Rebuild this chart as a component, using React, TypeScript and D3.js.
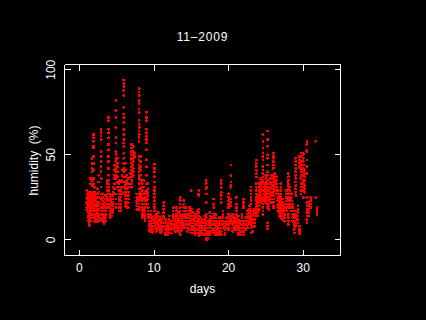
// humidity scatter for one month, R style plot on black
import React, { useEffect, useRef } from 'react';
import * as d3 from 'd3';

const xTicks = [0, 10, 20, 30];
const yTicks = [0, 50, 100];
const title = '11\u20132009';

// readings are grouped by column of the plot: one day position, several humidity values
const daysA = [1.0, 1.15, 1.3, 1.5, 1.7, 1.9, 2.05, 2.2, 2.4, 2.6, 2.9, 3.1, 3.3, 3.5, 3.7, 3.9, 4.1, 4.3, 4.5, 4.7, 4.9, 5.1];
const humidityA = [
  [29, 27, 25, 24, 22, 21, 19, 18, 17],
  [28, 26, 25, 23, 22, 20, 19, 17, 16, 14, 13, 11],
  [27, 25, 23, 21, 19, 17, 15, 13, 12, 10, 9, 8.5],
  [36, 33, 28, 26, 24, 22, 20, 18, 16, 15, 13, 11],
  [48, 45, 42, 40, 35, 32, 28, 27, 25, 23, 21, 19, 17, 15],
  [62, 60, 58, 55, 54, 49, 45, 41, 36, 33, 28, 26, 24, 22, 20, 18, 15, 13],
  [31, 28, 26, 24, 21, 19, 17, 15, 13, 11],
  [27, 25, 23, 21, 19, 17, 15, 14, 12, 10.5],
  [30, 27, 25, 22, 20, 18, 16, 14, 12],
  [38, 34, 28, 25, 22, 20, 18, 15, 13, 11],
  [65, 63, 61, 59, 52, 49, 46, 43, 40, 36, 31, 27, 24, 21, 19, 17, 15, 12],
  [27, 25, 23, 21, 19, 17, 15, 13, 11],
  [22, 20, 19, 17, 15, 14, 12, 10, 9.5],
  [26, 24, 21, 19, 17, 15, 13, 11],
  [35, 33, 31, 29, 27, 25, 23, 21, 19],
  [72, 70, 65, 63, 60, 56, 53, 49, 46, 42, 38, 35, 33, 31, 29, 27, 24, 21, 19],
  [27, 25, 23, 21, 19, 17, 15, 13],
  [26, 24, 22, 20, 18, 16, 14],
  [31, 28, 26, 24, 22, 20, 18, 16],
  [44, 41, 38, 36, 33, 30, 27],
  [82, 76, 72, 66, 60, 57, 52, 50, 48, 46, 44, 42, 40, 38, 36, 27, 24, 21, 19],
  [48, 45, 43, 40, 37, 34, 31],
];

const daysB = [5.3, 5.5, 5.7, 5.95, 6.15, 6.35, 6.55, 6.8, 7.0, 7.2, 7.4, 7.7, 8.0, 8.2, 8.4, 8.6, 8.8, 9.0, 9.2, 9.4, 9.6, 9.8, 10.05];
const humidityB = [
  [35, 33, 31, 29, 27, 25, 23, 21, 19, 17],
  [34, 31, 29, 27, 25, 23, 21, 19, 17],
  [41, 38, 35, 31, 27],
  [94, 92, 90, 88, 85, 78, 74, 72, 69, 65, 62, 59, 57, 55, 51, 48, 45, 42, 40, 37, 34, 31, 28],
  [45, 41, 37, 34, 32, 30, 28, 26, 24, 22, 20],
  [38, 35, 33, 30, 28, 26, 24, 22, 20, 19],
  [36, 33, 31, 28, 26, 24, 22, 19],
  [39, 37],
  [56, 54, 52, 50, 48, 47, 45, 43, 41, 39, 37, 35, 33, 31],
  [55, 52, 50, 48, 46, 44, 42, 40, 38],
  [51, 49],
  [27, 25, 23, 22, 20, 18],
  [89, 87, 85, 82, 80, 77, 75, 70, 68, 66, 64, 62, 60, 58, 49, 47, 44, 42, 40, 38, 36, 33, 30, 27, 25, 23, 21, 19, 18],
  [49, 46, 43, 41, 38, 35, 30, 28, 26, 24],
  [33, 31, 29, 27, 25, 23, 21, 19, 17, 15, 13],
  [35, 31, 27, 24, 21, 18, 16, 14],
  [28, 25, 23, 21, 19, 17, 15, 13, 11.5],
  [75, 72, 70, 65, 63, 61, 59, 57, 53, 47, 43, 38, 33, 29, 27, 25, 23, 21],
  [33, 30, 28, 26, 24, 21, 19, 17, 15, 13],
  [15, 13, 11, 9, 8, 6, 5],
  [17, 15, 13, 11, 9, 7, 5.5],
  [13, 12, 10, 8, 6, 4.5],
  [44.5, 42, 40, 37, 34, 31, 29, 27, 25, 23, 21, 19, 17, 14, 12, 10, 8],
];

const daysC = [10.3, 10.55, 10.8, 11.05, 11.3, 11.55, 11.8, 12.05, 12.3, 12.55, 12.8, 13.0, 13.25, 13.5, 13.75, 14.0, 14.25, 14.5, 14.75, 15.0, 15.25, 15.5, 15.75, 16.0];
const humidityC = [
  [15, 13, 11, 9, 7, 6, 5],
  [16, 14, 12, 10, 8, 6],
  [13, 11, 9, 7, 5, 4],
  [14, 12, 10, 8, 6, 4.5],
  [22, 20, 18, 16, 14, 13, 10, 8],
  [12, 10, 8, 6, 4, 3],
  [10, 9, 7, 6, 5, 3],
  [14, 12, 10, 8, 6, 4],
  [11, 9, 7, 6, 4],
  [19, 17, 15, 13, 11, 9, 7],
  [14, 12, 10, 8, 6, 5],
  [19, 17, 15, 13, 11, 9, 7, 5.5],
  [16, 14, 12, 10, 8, 6, 5],
  [25, 23, 21, 19, 17, 15, 13, 11, 9, 7, 5, 3],
  [14, 12, 10, 8, 6],
  [23, 21, 19, 17, 15, 13, 11, 9, 8, 7],
  [19, 17, 15, 13, 11, 9, 7],
  [15, 13, 11, 9, 7, 5],
  [19, 17, 15, 13, 11, 9, 6],
  [29, 18, 16, 14, 12, 10, 8, 6, 4],
  [16, 14, 12, 10, 8, 6, 4],
  [15, 13, 11, 9, 7, 5, 3],
  [17, 15, 13, 11, 9, 6, 4],
  [29, 27, 26, 18, 16, 14, 12, 10, 8, 6, 4, 2.6],
];

const daysD = [16.25, 16.5, 16.75, 17.0, 17.25, 17.5, 17.75, 18.0, 18.25, 18.5, 18.75, 19.0, 19.25, 19.5, 19.75, 20.0, 20.3, 20.55, 20.8, 21.05, 21.3, 21.55, 21.8, 22.0, 22.3, 22.55, 22.8, 23.0, 23.25, 23.5];
const humidityD = [
  [13, 11, 9, 7, 5, 3],
  [12, 10, 8, 6, 4],
  [14, 12, 10, 8, 6, 3],
  [35, 33, 31, 30, 27, 22, 15, 13, 11, 9, 7, 5, 3, 1, 0],
  [11, 9, 7, 5, 3, 1],
  [16, 14, 12, 10, 8, 5, 3],
  [13, 11, 9, 7, 5],
  [24, 21, 19, 15, 13, 11, 9, 6, 4],
  [15, 13, 11, 9, 7, 5, 3],
  [10, 8, 6, 4, 3],
  [13, 11, 9, 7, 5, 3],
  [35, 33, 31, 28, 26, 24, 22, 13, 11, 9, 7, 5, 3],
  [17, 15, 13, 11, 9, 7],
  [10, 8, 6, 4, 3],
  [13, 11, 9, 7],
  [27, 25, 23, 21, 19, 15, 13, 11, 9, 7, 6],
  [44, 38, 34, 32, 31, 24, 22, 20, 14, 12, 10],
  [15, 13, 11, 9, 7, 5],
  [13, 12, 10, 8, 6],
  [25, 21, 19, 17, 15, 13, 11, 9, 7, 6],
  [14, 12, 10, 8, 6, 4, 3],
  [11, 9, 7, 5, 3],
  [15, 13, 11, 9, 7, 5],
  [24, 22, 20, 19, 11, 9, 7, 5, 3],
  [13, 11, 9, 7, 6],
  [17, 15, 13, 11, 9, 7],
  [20, 18, 16, 14, 12, 10],
  [31, 29, 27, 25, 23, 21, 17, 15, 13, 11, 9, 7, 4],
  [17, 15, 14, 12, 10, 8, 5],
  [18, 16, 14, 12, 10, 8],
];

const daysE = [23.7, 23.9, 24.1, 24.3, 24.6, 24.8, 25.0, 25.2, 25.4, 25.6, 25.8, 26.0, 26.2, 26.4, 26.6, 26.8, 27.0, 27.25, 27.5, 27.75, 28.0, 28.2, 28.4, 28.6, 28.8, 29.0];
const humidityE = [
  [47, 45, 43, 41, 39, 37, 33, 31, 29, 27, 25, 23, 21, 19, 17, 15],
  [26, 24, 22, 20, 18, 16, 14],
  [33, 31, 29, 27, 25, 23, 20, 18],
  [36, 34, 32, 30, 28, 26, 24, 22],
  [62, 58, 54, 51, 49, 47, 43, 41, 39, 37, 35, 33, 31, 29, 27, 25, 23, 21, 19, 17, 15],
  [33, 31, 29, 27, 25, 23],
  [38, 36, 34, 32, 30, 28, 26, 24, 22],
  [64, 59, 55, 50, 48, 44, 40, 38, 35, 33, 31, 29, 27, 25, 23, 21, 19, 10, 8, 6.5],
  [31, 29, 27, 25, 23, 20, 18],
  [36, 34, 33, 30, 28, 26, 24, 22],
  [38, 36, 34, 32, 30, 28, 26],
  [51, 49, 48, 46, 44, 42, 38, 36, 34, 32, 30, 28, 26, 24, 22, 20, 19],
  [39, 37, 35, 33, 31, 29],
  [37, 35, 33, 31, 29, 27],
  [29, 27, 25, 23, 21, 19, 17],
  [26, 24, 22, 20, 18, 16, 14],
  [33, 31, 29, 27, 25, 23, 21, 19, 17, 15, 13],
  [24, 22, 20, 18, 16, 14, 12],
  [21, 19, 17, 15, 13, 11],
  [29, 27, 25, 23, 21, 19, 17],
  [39, 37, 35, 33, 32, 30, 27, 25, 23, 21, 19, 15, 13, 11, 9],
  [31, 29, 27, 25, 23, 21, 19],
  [27, 25, 23, 21, 19, 17],
  [21, 19, 17, 15, 13, 11],
  [15, 13, 11, 9, 8, 6, 4],
  [48, 46, 44, 42, 40, 38, 36, 34, 32, 30, 28, 26, 17, 15, 13, 11, 9, 8],
];

const daysF = [29.3, 29.5, 29.7, 30.0, 30.2, 30.5, 30.7, 31.0, 31.7, 31.85];
const humidityF = [
  [20, 18, 16, 14, 12, 10],
  [49, 47, 45, 43, 8, 6, 5, 3.6],
  [51, 49, 46, 44, 42, 40, 38, 36, 33, 31, 29, 27],
  [51, 50, 48, 46, 44, 42, 40, 38, 35, 33, 31, 29, 25],
  [41, 39, 37, 35, 32, 30, 28],
  [58, 56, 52, 52.6, 47, 43, 39, 25, 22, 20, 18, 16, 14, 12, 10],
  [22, 20, 18, 16, 14],
  [25, 23, 21, 19],
  [58, 25],
  [19, 18, 17, 16, 15],
];

const columnDays = [...daysA, ...daysB, ...daysC, ...daysD, ...daysE, ...daysF];
const columnValues = [...humidityA, ...humidityB, ...humidityC, ...humidityD, ...humidityE, ...humidityF];

const width = 426, height = 320;
const font = '"Liberation Sans", sans-serif';

export default function App() {
  const bottomRef = useRef<SVGGElement>(null);
  const leftRef = useRef<SVGGElement>(null);
  const topRef = useRef<SVGGElement>(null);
  const rightRef = useRef<SVGGElement>(null);

  // plot box is 64..340 by 64..255, domain picked so the ticks land where R put them
  const x = d3.scaleLinear().domain([-2, 35]).range([64.5, 340.5]);
  const y = d3.scaleLinear().domain([-9.2, 103.1]).range([255.5, 64.5]);

  useEffect(() => {
    // ticks point into the box on all four sides
    const paint = (g: d3.Selection<SVGGElement, unknown, null, undefined>) => {
      g.selectAll('path').attr('stroke', '#fff');
      g.selectAll('line').attr('stroke', '#fff');
      g.selectAll('text').attr('fill', '#fff').attr('font-size', 12).attr('font-family', font);
    };
    d3.select(bottomRef.current!).call(d3.axisBottom(x).tickValues(xTicks).tickSize(-6).tickSizeOuter(0).tickPadding(8).offset(0)).call(paint);
    d3.select(topRef.current!).call(d3.axisTop(x).tickValues(xTicks).tickSize(-6).tickSizeOuter(0).offset(0).tickFormat(() => '')).call(paint);
    d3.select(rightRef.current!).call(d3.axisRight(y).tickValues(yTicks).tickSize(-6).tickSizeOuter(0).offset(0).tickFormat(() => '')).call(paint);
    const left = d3.select(leftRef.current!);
    left.call(d3.axisLeft(y).tickValues(yTicks).tickSize(-6).tickSizeOuter(0).offset(0)).call(paint);
    // y tick labels read bottom to top
    left.selectAll<SVGTextElement, number>('text')
      .attr('text-anchor', 'middle')
      .attr('x', 0)
      .attr('dy', 0)
      .attr('y', 0)
      .attr('transform', 'translate(-9.5,0) rotate(-90)');
  }, []);

  return (
    <svg width={width} height={height} style={{ position: 'fixed', left: 0, top: 0, background: '#000', display: 'block' }}>
      <rect width={width} height={height} fill="#000" />
      <g shapeRendering="crispEdges">
        {columnDays.flatMap((d, i) =>
          columnValues[i].map((v, j) => (
            <circle key={`${i}-${j}`} cx={x(d)} cy={y(v)} r={1.5} fill="#ff0000" />
          ))
        )}
      </g>
      <g shapeRendering="crispEdges">
        <g ref={bottomRef} transform="translate(0,255.5)" />
        <g ref={topRef} transform="translate(0,64.5)" />
        <g ref={leftRef} transform="translate(64.5,0)" />
        <g ref={rightRef} transform="translate(340.5,0)" />
      </g>
      <text x={202.5} y={41} textAnchor="middle" fill="#fff" fontSize={12} letterSpacing={0.8} fontFamily={font}>{title}</text>
      <text x={202.5} y={293} textAnchor="middle" fill="#fff" fontSize={12} fontFamily={font}>days</text>
      <text transform="translate(38,160.5) rotate(-90)" textAnchor="middle" fill="#fff" fontSize={12} fontFamily={font} style={{ whiteSpace: 'pre' }}>humidity  (%)</text>
    </svg>
  );
}
